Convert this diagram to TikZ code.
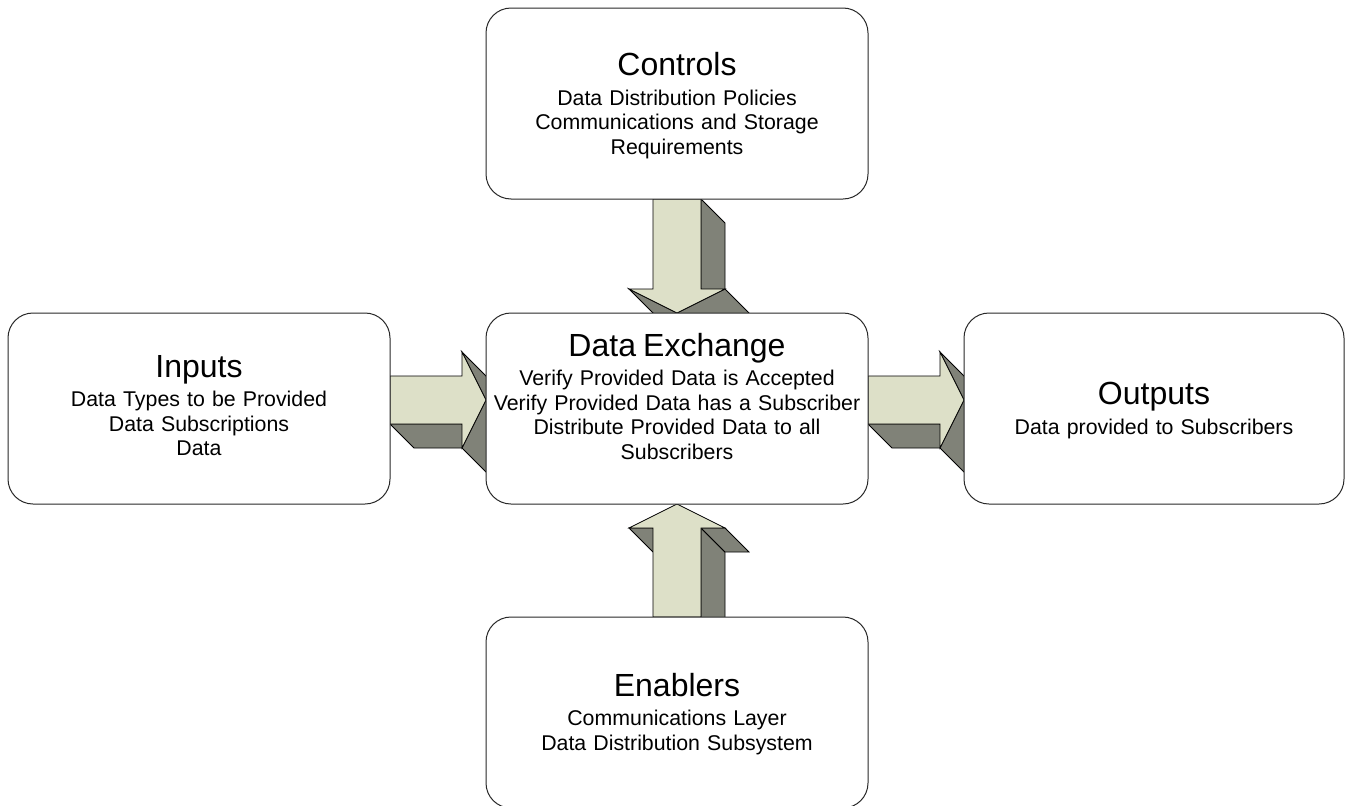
\documentclass[tikz,border=0pt]{standalone}
\usepackage{fontspec}
\setmainfont{Liberation Sans}
\usetikzlibrary{calc}
\definecolor{pale}{RGB}{221,224,200}
\definecolor{shade}{RGB}{128,130,120}
\definecolor{edgecol}{RGB}{40,40,40}
\newcommand\ttlfont{\fontsize{32}{38}\selectfont}
\newcommand\bdyfont{\fontsize{21.33}{24.5}\selectfont}
\setlength{\parindent}{0pt}
\pgfdeclarelayer{bg}
\pgfsetlayers{bg,main}
\begin{document}
\begin{tikzpicture}[x=1pt,y=-1pt,
  box/.style={draw=edgecol, line width=1pt, fill=white, rounded corners=25pt,
    minimum width=382pt, minimum height=191pt, inner sep=0pt, outer sep=0pt},
  boxtext/.style={anchor=north, inner sep=0pt, text width=380pt, align=center, font=\bdyfont},
  front/.style={fill=pale, draw=black, line width=0.8pt, line join=miter},
  face/.style={fill=shade, draw=black, line width=0.8pt, line join=miter}]
\useasboundingbox (0,0) rectangle (1345,806);
\clip (0,0) rectangle (1345,806);

% boxes
\node[box] (ctrl) at (677,103.5) {};
\node[box] (dx) at (677,408.5) {};
\node[box] (inp) at (199,408.5) {};
\node[box, minimum width=380pt] (outp) at (1154,408.5) {};
\node[box] (enab) at (677,712.5) {};

% texts
\node[boxtext] (ctrl-t) at ($(ctrl.center)+(0,-51)$)
  {{\ttlfont Controls\par}\vspace{5pt}Data Distribution Policies\par Communications and Storage\par Requirements};
\node[boxtext] (dx-t) at ($(dx.center)+(0,-75.5)$)
  {{\ttlfont Data Exchange\par}\vspace{5pt}Verify Provided Data is Accepted\par Verify Provided Data has a Subscriber\par Distribute Provided Data to all\par Subscribers};
\node[boxtext] (inp-t) at ($(inp.center)+(0,-53.5)$)
  {{\ttlfont Inputs\par}\vspace{5pt}Data Types to be Provided\par Data Subscriptions\par Data};
\node[boxtext] (outp-t) at ($(outp.center)+(0,-26.5)$)
  {{\ttlfont Outputs\par}\vspace{5pt}Data provided to Subscribers};
\node[boxtext] (enab-t) at ($(enab.center)+(0,-39.5)$)
  {{\ttlfont Enablers\par}\vspace{5pt}Communications Layer\par Data Distribution Subsystem};

% block arrows behind the boxes
\begin{pgfonlayer}{bg}
% Controls -> Data Exchange (down)
\begin{scope}[shift={(ctrl.south)}]
  \filldraw[face] (24,0) -- (48,24) -- (48,114) -- (24,90) -- cycle;
  \filldraw[face] (-48,90) -- (0,114) -- (24,138) -- (-24,114) -- cycle;
  \filldraw[face] (48,90) -- (0,114) -- (24,138) -- (72,114) -- cycle;
  \filldraw[front] (-24,0) -- (24,0) -- (24,90) -- (48,90) -- (0,114) -- (-48,90) -- (-24,90) -- cycle;
\end{scope}
% Enablers -> Data Exchange (up)
\begin{scope}[shift={(dx.south)}]
  \filldraw[face] (24,24) -- (24,113) -- (48,137) -- (48,48) -- cycle;
  \filldraw[face] (24,24) -- (48,24) -- (72,48) -- (48,48) -- cycle;
  \filldraw[face] (-48,24) -- (-24,24) -- (0,48) -- (-24,48) -- cycle;
  \filldraw[front] (0,0) -- (48,24) -- (24,24) -- (24,113) -- (-24,113) -- (-24,24) -- (-48,24) -- cycle;
\end{scope}
% Inputs -> Data Exchange (right)
\begin{scope}[shift={($(inp.east)+(0,-8.5)$)}]
  \filldraw[face] (0,24) -- (72,24) -- (96,48) -- (24,48) -- cycle;
  \filldraw[face] (72,-48) -- (96,0) -- (120,24) -- (96,-24) -- cycle;
  \filldraw[face] (96,0) -- (72,48) -- (96,72) -- (120,24) -- cycle;
  \filldraw[front] (0,-24) -- (72,-24) -- (72,-48) -- (96,0) -- (72,48) -- (72,24) -- (0,24) -- cycle;
\end{scope}
% Data Exchange -> Outputs (right)
\begin{scope}[shift={($(dx.east)+(0,-8.5)$)}]
  \filldraw[face] (0,24) -- (72,24) -- (96,48) -- (24,48) -- cycle;
  \filldraw[face] (72,-48) -- (96,0) -- (120,24) -- (96,-24) -- cycle;
  \filldraw[face] (96,0) -- (72,48) -- (96,72) -- (120,24) -- cycle;
  \filldraw[front] (0,-24) -- (72,-24) -- (72,-48) -- (96,0) -- (72,48) -- (72,24) -- (0,24) -- cycle;
\end{scope}
\end{pgfonlayer}
\end{tikzpicture}
\end{document}
